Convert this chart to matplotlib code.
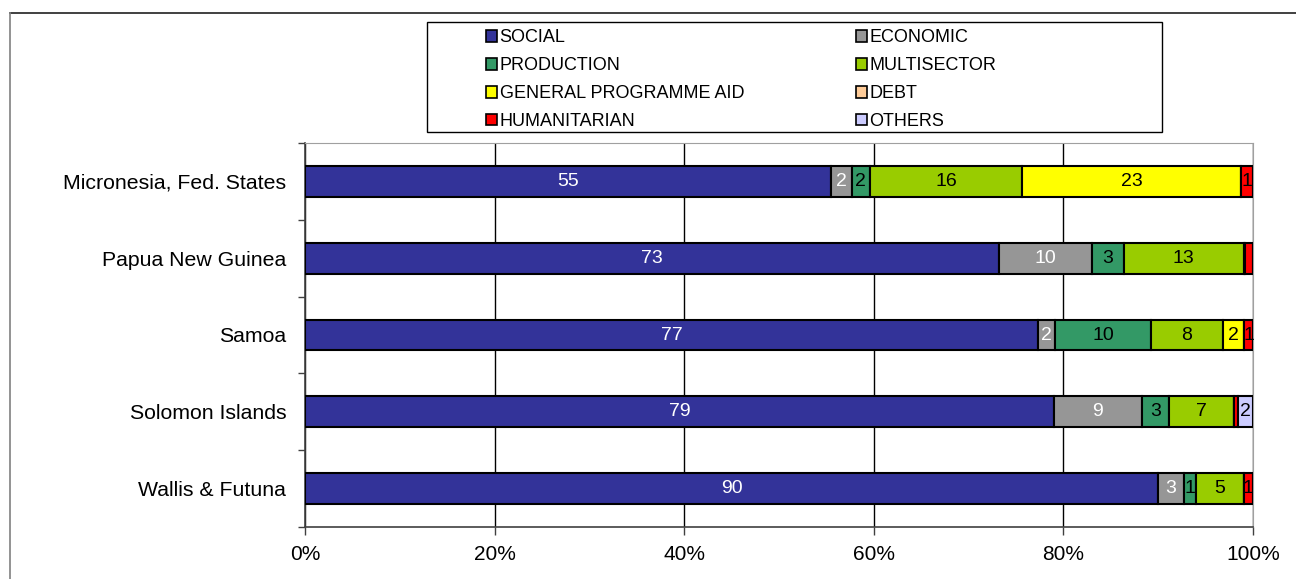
import numpy as np
import matplotlib
matplotlib.use("Agg")
import matplotlib.pyplot as plt
from matplotlib.patches import Rectangle, Patch
from matplotlib.lines import Line2D

plt.rcParams['font.family'] = ['Liberation Sans', 'DejaVu Sans']

countries = ["Micronesia, Fed. States", "Papua New Guinea", "Samoa",
             "Solomon Islands", "Wallis & Futuna"]
sectors = ["SOCIAL", "ECONOMIC", "PRODUCTION", "MULTISECTOR",
           "GENERAL PROGRAMME AID", "DEBT", "HUMANITARIAN", "OTHERS"]

social = [55.4, 73.2, 77.4, 79.0, 89.9]
economic = [2.2, 9.8, 1.8, 9.2, 2.7]
production = [1.9, 3.4, 10.1, 2.9, 1.3]
multisector = [16.1, 12.6, 7.6, 6.8, 5.0]
gpa = [23.0, 0.2, 2.3, 0.0, 0.0]
debt = [0.0, 0.0, 0.0, 0.0, 0.0]
humanitarian = [1.3, 0.8, 0.9, 0.45, 1.0]
others = [0.0, 0.0, 0.0, 1.6, 0.0]

colors = ["#333399", "#969696", "#339966", "#99CC00",
          "#FFFF00", "#FFCC99", "#FF0000", "#CCCCFF"]
text_colors = ["white", "white", "black", "black",
               "black", "black", "black", "black"]

data = np.array([social, economic, production, multisector,
                 gpa, debt, humanitarian, others])
shares = data / data.sum(axis=0) * 100

fig = plt.figure(figsize=(12.96, 5.79), dpi=100)
ax = fig.add_axes([305 / 1296, 1 - 527 / 579, 948 / 1296, 384 / 579])

y = np.arange(len(countries))
left = np.zeros(len(countries))
for i, name in enumerate(sectors):
    ax.barh(y, shares[i], left=left, height=0.4, color=colors[i],
            edgecolor="black", linewidth=1.5, label=name, zorder=3)
    for j in range(len(countries)):
        if data[i, j] >= 0.85:
            ax.text(left[j] + shares[i, j] / 2, y[j], "%.0f" % data[i, j],
                    ha="center", va="center", fontsize=14,
                    color=text_colors[i], zorder=4)
    left += shares[i]

ax.set_xlim(0, 100)
ax.set_ylim(len(countries) - 0.5, -0.5)
ax.set_xticks(np.arange(0, 101, 20))
ax.set_xticklabels(["%d%%" % v for v in range(0, 101, 20)], fontsize=15)
ax.set_yticks(y)
ax.set_yticklabels(countries, fontsize=15.3)
ax.set_yticks(np.arange(-0.5, len(countries)), minor=True)
ax.tick_params(axis="y", which="major", length=0, pad=13.5)
ax.tick_params(axis="y", which="minor", length=5, width=1, color="#404040")
ax.tick_params(axis="x", length=6, width=1, color="#404040", pad=7)
ax.grid(axis="x", color="black", linewidth=1, zorder=0)
for s in ["top", "right"]:
    ax.spines[s].set_color("#a0a0a0")
for s in ["left", "bottom"]:
    ax.spines[s].set_color("#404040")
    ax.spines[s].set_linewidth(1.2)

# legend, row-major like the original
order = [0, 2, 4, 6, 1, 3, 5, 7]
handles = [Patch(facecolor=colors[k], edgecolor="black", linewidth=1.2) for k in order]
labels = [sectors[k] for k in order]
fig.legend(handles, labels, ncol=2, frameon=False, loc="upper left",
           bbox_to_anchor=(486 / 1296, 1 - 29.5 / 579), fontsize=13,
           handlelength=0.6, handleheight=0.6, handletextpad=0.15,
           labelspacing=0.6, columnspacing=6.2, borderpad=0, borderaxespad=0)
fig.patches.append(Rectangle((427 / 1296, 1 - 132 / 579), 735 / 1296, 110 / 579,
                             transform=fig.transFigure, fill=False,
                             edgecolor="black", linewidth=1))

# chart area border (runs off the right and bottom edges)
fig.lines.append(Line2D([10 / 1296, 1.01], [1 - 13 / 579, 1 - 13 / 579],
                        transform=fig.transFigure, color="#202020", linewidth=1.2))
fig.lines.append(Line2D([10 / 1296, 10 / 1296], [-0.01, 1 - 13 / 579],
                        transform=fig.transFigure, color="#808080", linewidth=1.2))

fig.savefig("out.png", dpi=100)
